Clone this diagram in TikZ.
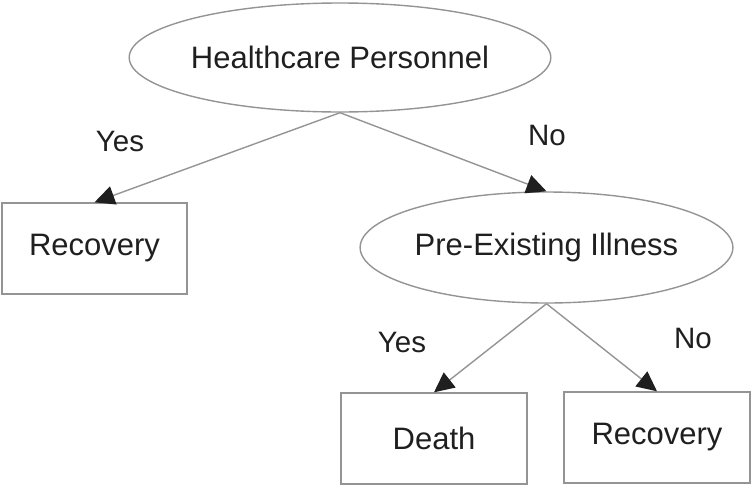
\documentclass[tikz,border=0pt]{standalone}
\usepackage{fontspec}
\setmainfont{Liberation Sans}
\usetikzlibrary{shapes.geometric,arrows.meta}
\tikzset{
  oval/.style={ellipse, draw=black!42, line width=1.4pt, inner sep=0pt, font=\fontsize{31}{36}\selectfont, text=black!88},
  leaf/.style={rectangle, draw=black!42, line width=1.4pt, inner sep=0pt, font=\fontsize{31}{36}\selectfont, text=black!88},
  conn/.style={draw=black!42, line width=1.4pt, -{Triangle[length=20pt,width=19pt,fill=black!88,color=black!88]}},
  lbl/.style={font=\fontsize{29.5}{34}\selectfont, text=black!88}
}
\begin{document}
\begin{tikzpicture}[x=1pt,y=-1pt]
\useasboundingbox (0,0) rectangle (751,485);
\node[oval, minimum width=356pt, minimum height=109pt] (hp) at (340,57.5) {Healthcare Personnel};
\node[oval, minimum width=359pt, minimum height=111pt] (pe) at (546.5,247.5) {Pre-Existing Illness};
\node[leaf, minimum width=185pt, minimum height=91pt] (rec1) at (94.5,248.5) {Recovery};
\node[leaf, minimum width=186pt, minimum height=91pt] (death) at (434,438.5) {Death};
\node[leaf, minimum width=186pt, minimum height=91pt] (rec2) at (657,437.5) {Recovery};
\draw[conn] (hp.south) -- (rec1.north);
\draw[conn] (hp.south) -- (pe.north);
\draw[conn] (pe.south) -- (death.north);
\draw[conn] (pe.south) -- (rec2.north);
\node[lbl] (y1) at (120,141) {Yes};
\node[lbl] (n1) at (547,135) {No};
\node[lbl] (y2) at (402,342) {Yes};
\node[lbl] (n2) at (693,338) {No};
\end{tikzpicture}
\end{document}
